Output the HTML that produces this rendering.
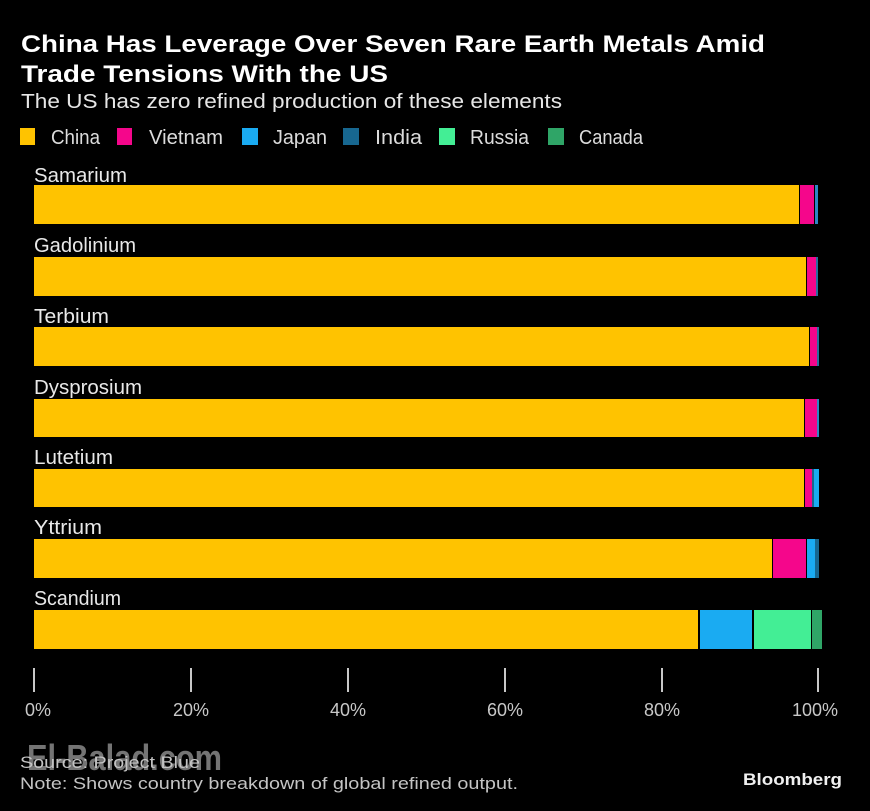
<!DOCTYPE html>
<html>
<head>
<meta charset="utf-8">
<style>
  html, body { margin: 0; padding: 0; background: #000; }
  body { width: 870px; height: 811px; overflow: hidden; }
  svg { display: block; }
  text { font-family: "Liberation Sans", "DejaVu Sans", sans-serif; }
</style>
</head>
<body>
<svg width="870" height="811" viewBox="0 0 870 811" xmlns="http://www.w3.org/2000/svg">
  <rect x="0" y="0" width="870" height="811" fill="#000"/>

  <!-- Title -->
  <text x="21" y="52" font-size="24" font-weight="bold" fill="#ffffff" textLength="744" lengthAdjust="spacingAndGlyphs">China Has Leverage Over Seven Rare Earth Metals Amid</text>
  <text x="21" y="82" font-size="24" font-weight="bold" fill="#ffffff" textLength="367" lengthAdjust="spacingAndGlyphs">Trade Tensions With the US</text>
  <!-- Subtitle -->
  <text x="21" y="108" font-size="20" fill="#e6e6e6" textLength="541" lengthAdjust="spacingAndGlyphs">The US has zero refined production of these elements</text>

  <!-- Legend -->
  <rect x="20" y="128" width="15" height="17" fill="#ffc300"/>
  <text x="51" y="144" font-size="20" fill="#dcdcdc" textLength="49" lengthAdjust="spacingAndGlyphs">China</text>
  <rect x="117" y="128" width="15" height="17" fill="#f5068b"/>
  <text x="149" y="144" font-size="20" fill="#dcdcdc" textLength="74" lengthAdjust="spacingAndGlyphs">Vietnam</text>
  <rect x="242" y="128" width="16" height="17" fill="#1aabf2"/>
  <text x="273" y="144" font-size="20" fill="#dcdcdc" textLength="54" lengthAdjust="spacingAndGlyphs">Japan</text>
  <rect x="343" y="128" width="16" height="17" fill="#176790"/>
  <text x="375" y="144" font-size="20" fill="#dcdcdc" textLength="47" lengthAdjust="spacingAndGlyphs">India</text>
  <rect x="439" y="128" width="16" height="17" fill="#43ee95"/>
  <text x="470" y="144" font-size="20" fill="#dcdcdc" textLength="59" lengthAdjust="spacingAndGlyphs">Russia</text>
  <rect x="548" y="128" width="16" height="17" fill="#2fa567"/>
  <text x="579" y="144" font-size="20" fill="#dcdcdc" textLength="64" lengthAdjust="spacingAndGlyphs">Canada</text>

  <!-- Category labels -->
  <g font-size="20" fill="#e8e8e8">
    <text x="34" y="182" textLength="93" lengthAdjust="spacingAndGlyphs">Samarium</text>
    <text x="34" y="252" textLength="102" lengthAdjust="spacingAndGlyphs">Gadolinium</text>
    <text x="34" y="323" textLength="75" lengthAdjust="spacingAndGlyphs">Terbium</text>
    <text x="34" y="394" textLength="108" lengthAdjust="spacingAndGlyphs">Dysprosium</text>
    <text x="34" y="464" textLength="79" lengthAdjust="spacingAndGlyphs">Lutetium</text>
    <text x="34" y="534" textLength="68" lengthAdjust="spacingAndGlyphs">Yttrium</text>
    <text x="34" y="605" textLength="87" lengthAdjust="spacingAndGlyphs">Scandium</text>
  </g>

  <!-- Bars -->
  <!-- Samarium -->
  <rect x="34" y="185" width="765" height="39" fill="#ffc300"/>
  <rect x="800" y="185" width="14" height="39" fill="#f5068b"/>
  <rect x="815" y="185" width="3" height="39" fill="#2f86c4"/>
  <!-- Gadolinium -->
  <rect x="34" y="257" width="772" height="39" fill="#ffc300"/>
  <rect x="807" y="257" width="9" height="39" fill="#f5068b"/>
  <rect x="816" y="257" width="2" height="39" fill="#2a6f9e"/>
  <!-- Terbium -->
  <rect x="34" y="327" width="775" height="39" fill="#ffc300"/>
  <rect x="810" y="327" width="7" height="39" fill="#f5068b"/>
  <rect x="817" y="327" width="2" height="39" fill="#2a6f9e"/>
  <!-- Dysprosium -->
  <rect x="34" y="399" width="770" height="38" fill="#ffc300"/>
  <rect x="805" y="399" width="12" height="38" fill="#f5068b"/>
  <rect x="817" y="399" width="2" height="38" fill="#2f86c4"/>
  <!-- Lutetium -->
  <rect x="34" y="469" width="770" height="38" fill="#ffc300"/>
  <rect x="805" y="469" width="7" height="38" fill="#f5068b"/>
  <rect x="812" y="469" width="2" height="38" fill="#176790"/>
  <rect x="814" y="469" width="5" height="38" fill="#1aabf2"/>
  <!-- Yttrium -->
  <rect x="34" y="539" width="738" height="39" fill="#ffc300"/>
  <rect x="773" y="539" width="33" height="39" fill="#f5068b"/>
  <rect x="807" y="539" width="8" height="39" fill="#1aabf2"/>
  <rect x="815" y="539" width="4" height="39" fill="#176790"/>
  <!-- Scandium -->
  <rect x="34" y="610" width="664" height="39" fill="#ffc300"/>
  <rect x="700" y="610" width="52" height="39" fill="#1aabf2"/>
  <rect x="754" y="610" width="57" height="39" fill="#43ee95"/>
  <rect x="812" y="610" width="10" height="39" fill="#2fa567"/>

  <!-- Axis ticks -->
  <g stroke="#c8c8c8" stroke-width="2">
    <line x1="34" y1="668" x2="34" y2="692"/>
    <line x1="191" y1="668" x2="191" y2="692"/>
    <line x1="348" y1="668" x2="348" y2="692"/>
    <line x1="505" y1="668" x2="505" y2="692"/>
    <line x1="662" y1="668" x2="662" y2="692"/>
    <line x1="818" y1="668" x2="818" y2="692"/>
  </g>
  <g font-size="18" fill="#c8c8c8" text-anchor="middle">
    <text x="38" y="716">0%</text>
    <text x="191" y="716">20%</text>
    <text x="348" y="716">40%</text>
    <text x="505" y="716">60%</text>
    <text x="662" y="716">80%</text>
    <text x="815" y="716">100%</text>
  </g>

  <!-- Watermark -->
  <text x="27" y="770" font-size="36" font-weight="bold" fill="#747474" textLength="195" lengthAdjust="spacingAndGlyphs">El-Balad.com</text>

  <!-- Footer -->
  <text x="20" y="768" font-size="17" fill="#c4c4c4" textLength="180" lengthAdjust="spacingAndGlyphs">Source: Project Blue</text>
  <text x="20" y="789" font-size="17" fill="#c4c4c4" textLength="498" lengthAdjust="spacingAndGlyphs">Note: Shows country breakdown of global refined output.</text>
  <text x="743" y="785" font-size="17" font-weight="bold" fill="#f0f0f0" textLength="99" lengthAdjust="spacingAndGlyphs">Bloomberg</text>
</svg>
</body>
</html>
